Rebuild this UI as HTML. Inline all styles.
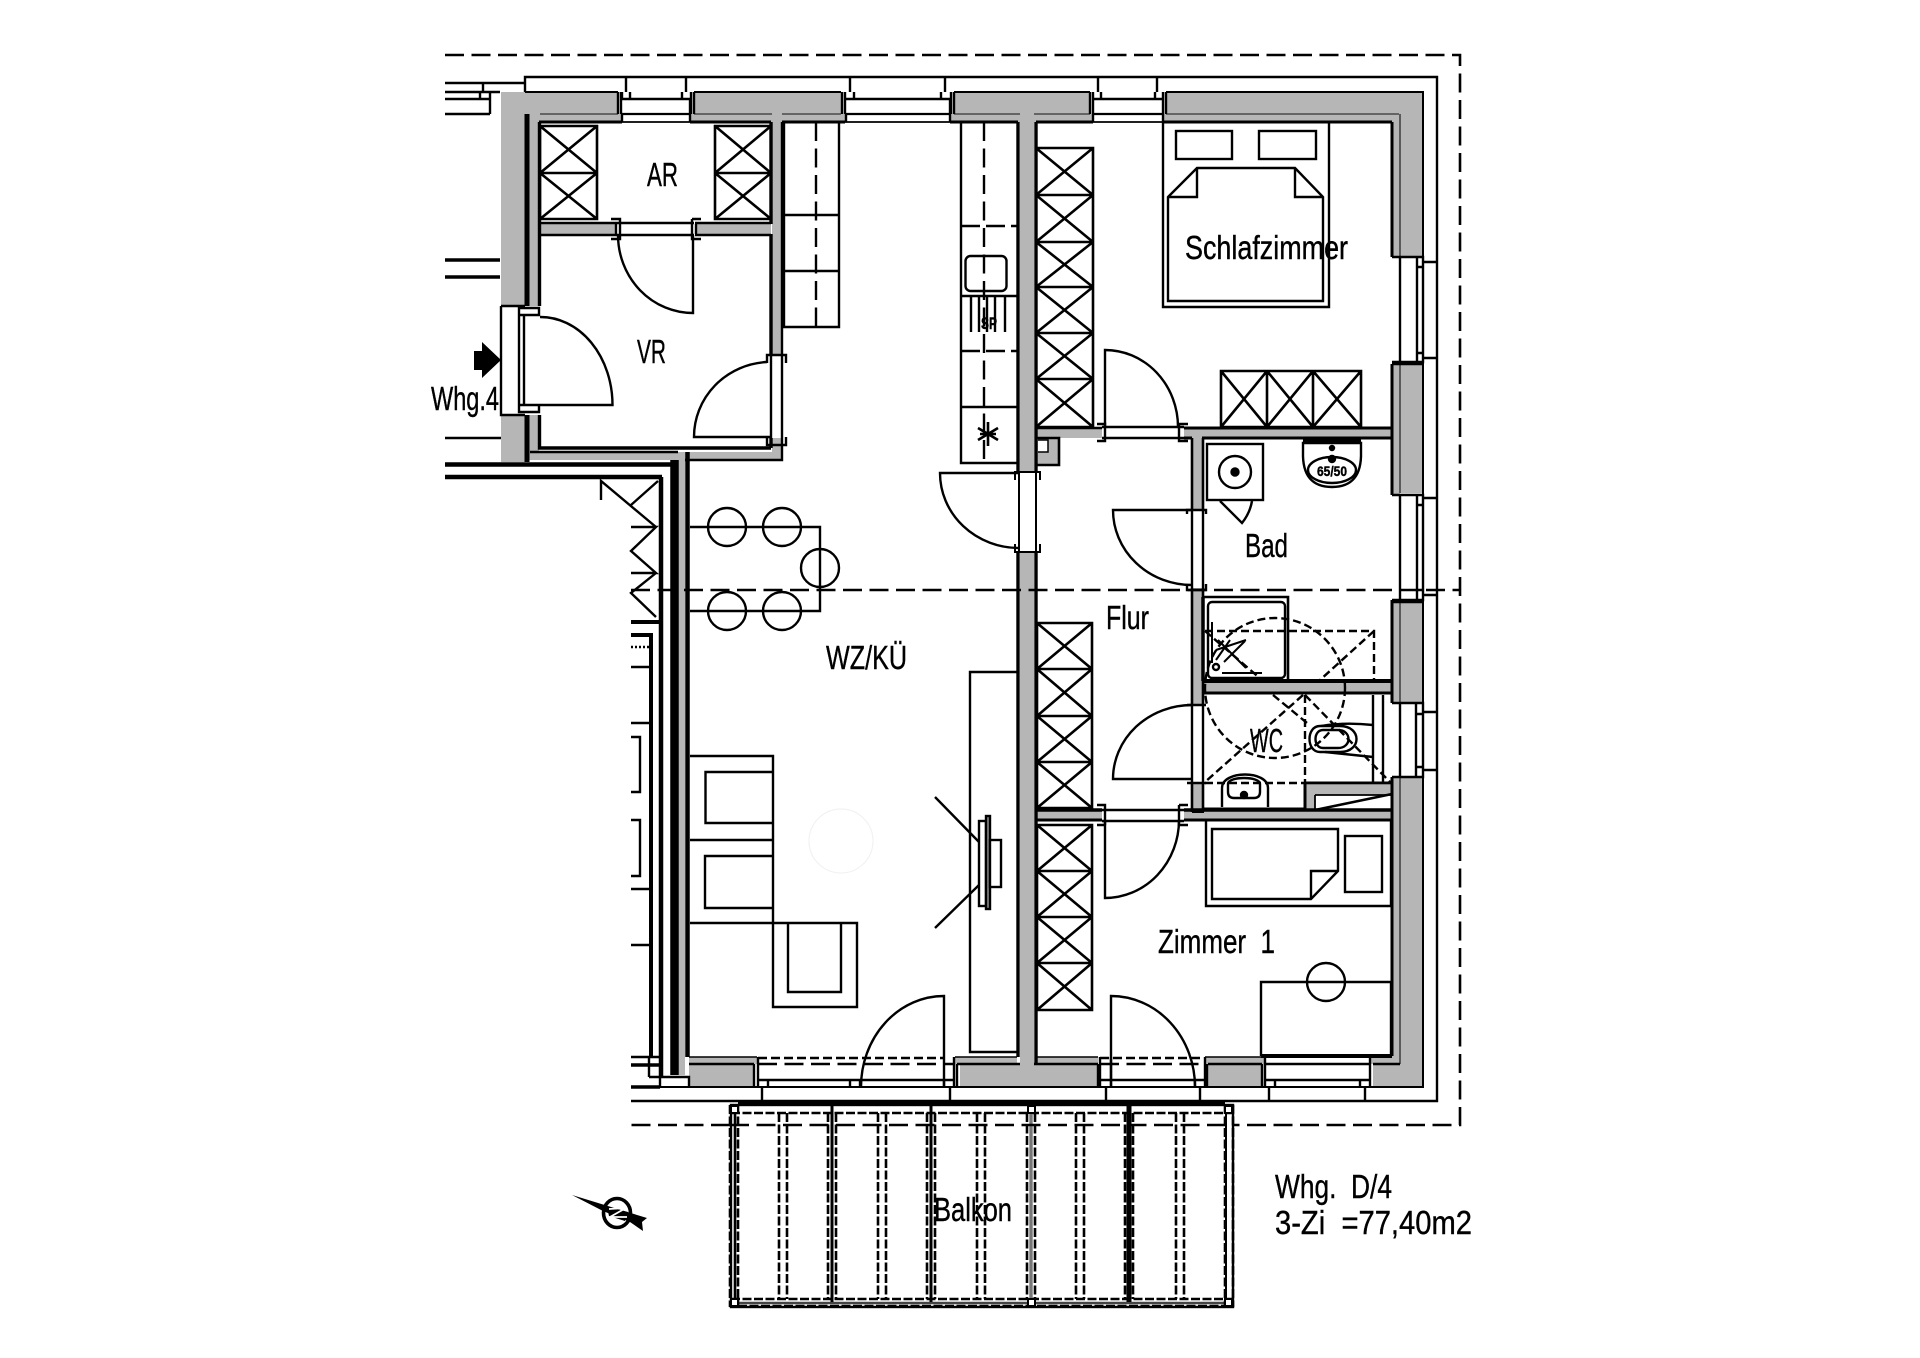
<!DOCTYPE html>
<html><head><meta charset="utf-8"><title>Whg. D/4</title>
<style>
html,body{margin:0;padding:0;background:#fff}
svg{display:block}
text{font-family:"Liberation Sans",sans-serif;font-size:33px;fill:#000;stroke:#000;stroke-width:.4}
.g{fill:#b6b6b6;stroke:none}
.w{fill:#fff;stroke:none}
</style></head><body>
<svg width="1920" height="1358" viewBox="0 0 1920 1358" xmlns="http://www.w3.org/2000/svg" fill="none" stroke="#000" stroke-width="2.4">
<rect class="w" width="1920" height="1358"/>

<!-- gray walls -->
<g class="g">
<rect x="525" y="92" width="93" height="22"/><rect x="694" y="92" width="147" height="22"/><rect x="954" y="92" width="136" height="22"/><rect x="1166" y="92" width="257" height="22"/>
<rect x="539" y="114" width="83" height="8"/><rect x="690" y="114" width="155" height="8"/><rect x="950" y="114" width="143" height="8"/><rect x="1163" y="114" width="229" height="8"/>
<rect x="501" y="92" width="24" height="214"/><rect x="501" y="415" width="24" height="47"/>
<rect x="529" y="114" width="10" height="192"/><rect x="529" y="415" width="10" height="45"/><rect x="529" y="452" width="253" height="8"/>
<rect x="540" y="224" width="76" height="10"/><rect x="695" y="224" width="76" height="10"/>
<rect x="772" y="114" width="10" height="241"/><rect x="772" y="438" width="10" height="22"/>
<rect x="678" y="452" width="7" height="623"/>
<rect x="1020" y="114" width="14" height="358"/><rect x="1020" y="552" width="14" height="535"/>
<rect x="1400" y="92" width="23" height="165"/><rect x="1400" y="364" width="23" height="129"/><rect x="1400" y="602" width="23" height="100"/><rect x="1400" y="777" width="23" height="310"/>
<rect x="1392" y="114" width="8" height="143"/><rect x="1392" y="364" width="8" height="131"/><rect x="1392" y="600" width="8" height="103"/><rect x="1392" y="777" width="8" height="287"/>
<rect x="689" y="1064" width="64" height="23"/><rect x="689" y="1057" width="68" height="7"/>
<rect x="960" y="1064" width="138" height="23"/><rect x="955" y="1057" width="62" height="7"/><rect x="1037" y="1057" width="61" height="7"/>
<rect x="1208" y="1064" width="54" height="23"/><rect x="1205" y="1057" width="59" height="7"/>
<rect x="1373" y="1064" width="50" height="23"/><rect x="1370" y="1057" width="30" height="7"/>
<rect x="1036" y="428" width="66" height="10"/><rect x="1184" y="428" width="208" height="10"/>
<rect x="1036" y="438" width="23" height="27"/>
<rect x="1192" y="438" width="10" height="72"/><rect x="1192" y="588" width="10" height="117"/><rect x="1192" y="783" width="10" height="32"/>
<rect x="1202" y="683" width="190" height="10"/>
<rect x="1305" y="785" width="87" height="25"/>
<rect x="1036" y="810" width="66" height="10"/><rect x="1184" y="810" width="208" height="10"/>
</g>
<rect class="w" x="1038" y="440" width="10" height="12"/>
<polygon class="w" points="1315,795 1392,795 1392,810 1315,810"/>

<!-- building outline -->
<path d="M525 92V77H1437V1101H631"/>
<path d="M626 77V92M686 77V92M850 77V92M945 77V92M1098 77V92M1157 77V92"/>
<path d="M1423 262H1437M1423 358H1437M1423 498H1437M1423 595H1437M1423 712H1437M1423 770H1437"/>
<path d="M762 1088V1101M950 1088V1101M1106 1088V1101M1200 1088V1101M1269 1088V1101M1365 1088V1101"/>
<path d="M631 1087H1423V92H1166M1090 92H954M841 92H694M618 92H525" stroke-width="2"/>
<path d="M1392 122H1163M1093 122H1036M1018 122H950M845 122H782M771 122H690M622 122H539" stroke-width="3"/>
<path d="M1163 122H1093M950 122H845M690 122H622" stroke-width="1.800"/>
<path d="M1399 114H1166M1090 114H1034M1020 114H954M841 114H782M772 114H694M618 114H540" stroke-width="1.300" stroke="#333"/>
<path d="M1163 114H1093M950 114H846M690 114H622" stroke-width="2.200"/>
<path d="M1392 122V257M1392 364V495M1392 600V703M1392 777V1056" stroke-width="3"/>
<path d="M1400 114V257M1400 364V493M1400 602V702M1400 777V1064" stroke-width="1.400" stroke="#333"/>

<!-- top windows -->
<path d="M618 92V114M621 92V114M691 92V114M694 92V114M622 99H690M622 114V122M690 99V122M630 92V99M682 92V99M622 99V92"/>
<path d="M842 92V114M845 92V114M951 92V114M954 92V114M846 99H950M846 114V122M950 99V122M854 92V99M941 92V99"/>
<path d="M1090 92V114M1093 92V122M1163 92V122M1166 92V114M1093 99H1163M1101 92V99M1155 92V99"/>

<!-- right windows -->
<path d="M1392 257H1423V362H1392M1392 364H1423M1400 257V362M1417 257V362M1417 267H1423M1417 353H1423"/>
<path d="M1392 495H1423V600H1392M1392 602H1423M1400 495V600M1417 495V600M1417 505H1423M1417 590H1423"/>
<path d="M1392 703H1423V777H1392M1400 703V777M1416 703V777M1416 714H1423M1416 767H1423"/>

<!-- bottom windows -->
<path d="M1265 1057V1088M1370 1057V1088M1262 1064V1087M1265 1064H1370M1265 1080H1370M1275 1080V1088M1360 1080V1088"/>
<path d="M1100 1057V1088M1098 1064V1087M1205 1057V1088M1207 1064V1087M1100 1080H1205M1111 1057V1088M1195 1080V1088"/>
<path d="M758 1057V1088M754 1064V1087M954 1057V1088M957 1064V1087M758 1080H954M768 1080V1088M850 1080V1088M860 1080V1088M944 1080V1088"/>
<path d="M1100 1058H1200M758 1058H945" stroke-dasharray="9 4"/>
<path d="M1100 1064H1205M758 1064H954" stroke-dasharray="19 7.5"/>
<path d="M689 1057H757M955 1057H1017M1037 1057H1098M1205 1057H1264M1370 1057H1392" stroke-width="1.6"/>
<path d="M689 1064H754M957 1064H1020M1034 1064H1098M1208 1064H1262M1373 1064H1400" stroke-width="2.400"/>

<!-- left exterior stubs -->
<path d="M445 83H525M445 92H500M445 99H490M445 114H490M490 92V114M483 83V92M480 92V99"/>
<path d="M445 260H500M445 277H500" stroke-width="3.6"/>
<path d="M445 438H501"/>
<path d="M501 306H525M501 306V415H525"/>
<polygon points="474,351 482,351 482,342 501,360 482,378 482,370 474,370" fill="#000" stroke="none"/>
<path d="M445 464.5H676M445 477H662M661 477V1077" stroke-width="4.5"/>
<path d="M674.5 460V1075" stroke-width="8.5"/>
<path d="M687.5 452V1057" stroke-width="4.5"/>
<path d="M527 114V306M527 415V462" stroke-width="5"/>
<path d="M539.5 122V306M539.5 415V448H771M771 122V224M771 234V355M771 438V448" stroke-width="3.4"/>
<path d="M530 452H678M685 460H782V438M782 122V355" stroke-width="2.4"/>
<path d="M649 1077H689V1087M660 1077V1087"/>
<path d="M649 1077V1057"/>
<path d="M648 1057H660M631 1057H654"/>
<path d="M631 1065H660" stroke-width="3.4"/>
<path d="M631 1087H660" stroke-width="3.4"/>
<path d="M631 622H660M631 635H651V1057" stroke-width="4"/>
<path d="M631 647H655" stroke-dasharray="2 2"/>
<path d="M631 667H650M631 723H650M631 889H650M631 945H650"/>
<path d="M631 737H640V792H631M631 820H640V876H631"/>
<path d="M601 500V481L656 527M658 481L631 505M631 527H656L631 551L656 573H631M656 573L631 593L656 617"/>

<!-- AR / VR -->
<path d="M540 126H597V219H540ZM540 173H597M540 126L597 173M597 126L540 173M540 173L597 219M597 173L540 219" stroke-width="2.6"/>
<path d="M715 126H771V219H715ZM715 173H771M715 126L771 173M771 126L715 173M715 173L771 219M771 173L715 219" stroke-width="2.6"/>
<path d="M540 223H616M540 235H616M695 223H771M695 235H771M616 223H694M616 235H694" />
<path d="M611 219H620V239H611M616 224V234M692 219H701M701 239H692V219M696 224V234"/>
<path d="M693 235V313A75 78 0 0 1 618 235"/>
<path d="M519 308H539V315H519ZM519 405H539V412H519ZM519 308V412M524 315V405"/>
<path d="M540 405H612.500A72 88 0 0 0 540 317"/>
<path d="M771 355V438M782 355V438M767 363V355H786V363M767 437V445H786V437"/>
<path d="M771 437H694A77 75 0 0 1 767 362"/>

<!-- left wardrobe top kitchen -->
<path d="M784 122V327H839V122M784 215H839M784 271H839"/>
<path d="M816 122V327" stroke-dasharray="19 7.500"/>

<!-- right kitchen -->
<path d="M961 122V463H1017M961 296H1017M961 407H1017"/>
<path d="M961 226H1017M961 351H1017" stroke-dasharray="19 6"/>
<path d="M984 122V463" stroke-dasharray="19 7.500"/>
<rect x="965.500" y="256" width="41" height="35" rx="5"/>
<path d="M971 296V332M979 296V332M987 296V332M995 296V332M1005 296V332"/>
<text x="981" y="329" style="font-size:17px;font-weight:bold" textLength="16" lengthAdjust="spacingAndGlyphs">SP</text>
<path d="M988 422V446M978 428L998 440M998 428L978 440M980 434H996" stroke-width="2.600"/>

<!-- center wall lines -->
<path d="M1018 122V472M1018 552V1057M1036 122V472M1036 552V1064" stroke-width="3.400"/>
<path d="M1019 472V552M1036 472V552M1015 480V472H1040V480M1015 544V552H1040V544" stroke-width="2"/>
<path d="M1019 473H940A79 75 0 0 0 1019 548"/>

<!-- Schlafzimmer closets -->
<path d="M1036 148H1093V427H1036ZM1036 195H1093M1036 242H1093M1036 287H1093M1036 333H1093M1036 379H1093M1036 148L1093 195M1093 148L1036 195M1036 195L1093 242M1093 195L1036 242M1036 242L1093 287M1093 242L1036 287M1036 287L1093 333M1093 287L1036 333M1036 333L1093 379M1093 333L1036 379M1036 379L1093 427M1093 379L1036 427" stroke-width="2.600"/>
<path d="M1036 428H1102M1036 438H1059V465H1036" stroke-width="2.600"/>
<path d="M1038 440H1048V452H1038" stroke-width="1.500"/>
<path d="M1184 428H1392M1184 438H1192M1202 438H1392" stroke-width="3"/>
<path d="M1102 427H1184M1102 438H1184M1097 424H1105V441H1097M1179 424V441H1188M1179 424H1188"/>
<path d="M1105 427V350A73 77 0 0 1 1178 427"/>

<!-- bed -->
<path d="M1163 122V307H1329V122"/>
<rect x="1176" y="131" width="56" height="28"/><rect x="1259" y="131" width="57" height="28"/>
<path d="M1168 197L1197 168H1295L1323 197V301H1168ZM1197 168V197H1168M1295 168V197H1323"/>
<path d="M1221 371H1361V427H1221ZM1267 371V427M1313 371V427M1221 371L1267 427M1267 371L1221 427M1267 371L1313 427M1313 371L1267 427M1313 371L1361 427M1361 371L1313 427" stroke-width="2.600"/>

<!-- Bad -->
<path d="M1192 438V510M1192 588V705M1192 783V812M1203 438V510M1203 588V705M1203 783V812" stroke-width="2.600"/>
<path d="M1192 510V588M1203 510V588M1187 514V510H1206V514M1187 584V590H1206V584M1192 705V783M1203 705V783M1187 705H1206M1187 783H1206"/>
<path d="M1192 510H1113A79 75 0 0 0 1192 585"/>
<path d="M1192 779H1113A79 74 0 0 1 1192 705"/>
<rect x="1207" y="444" width="56" height="56"/>
<circle cx="1235" cy="472" r="16"/><circle cx="1235" cy="472" r="3.500" fill="#000"/>
<path d="M1220 501L1242 523Q1250 513 1252 501"/>
<path d="M1303 443H1361V452Q1362 487 1332 487Q1302 487 1303 452Z" fill="#fff" stroke-width="2.400"/>
<path d="M1303 441H1361" stroke-width="5"/>
<ellipse cx="1332" cy="470" rx="24" ry="13" stroke-width="2.400"/>
<circle cx="1332" cy="448" r="2" fill="#000"/><circle cx="1332" cy="459" r="3" fill="#000"/>
<text x="1317" y="476" style="font-size:14px;font-weight:bold" textLength="30" lengthAdjust="spacingAndGlyphs">65/50</text>

<!-- shower -->
<path d="M1203 597H1288V682" stroke-width="2.600"/>
<rect x="1208" y="602" width="77" height="76" rx="4"/>
<path d="M1203 681H1392" stroke-width="4"/>
<path d="M1202 693H1392" stroke-width="3"/>
<path d="M1203 597V681" stroke-width="3.500"/>
<path d="M1212 622V663M1222 673H1262M1216 650L1246 640M1218 640L1246 668" stroke-width="2"/>
<circle cx="1216" cy="667" r="3"/>
<path d="M1230 640L1216 660M1245 641L1224 662" stroke-width="2"/>
<!-- dashed shower / WC swings -->
<g stroke-dasharray="8 4">
<path d="M1205 631H1374V680"/>
<path d="M1205 631L1262 680M1374 631L1320 680"/>
<circle cx="1275" cy="688" r="70"/>
<path d="M1305 695V783H1205"/>
<path d="M1303 695L1205 782M1273 695L1307 723M1305 695L1390 782"/>
</g>

<!-- WC -->
<path d="M1373 695V783M1383 695V783" stroke-width="2.400"/>
<path d="M1305 783H1392M1203 809H1305V783" stroke-width="3"/>
<path d="M1315 795H1392M1315 795V810L1392 794" stroke-width="1.800"/>
<path d="M1315 810L1392 794" stroke-width="2.600"/>
<path d="M1192 812H1204M1305 810H1392" stroke-width="2"/>
<path d="M1321 726Q1345 722 1373 725M1325 752L1373 757"/>
<path d="M1320 726C1306 726 1306 752 1320 752H1340C1362 752 1362 726 1340 726Z"/>
<path d="M1323 730C1313 730 1313 748 1323 748H1338C1352 748 1352 730 1338 730Z"/>
<path d="M1222 807V788C1222 770 1268 770 1268 788V807"/>
<path d="M1228 784C1228 776 1260 776 1260 784V792Q1260 798 1254 798H1234Q1228 798 1228 792Z"/>
<circle cx="1244" cy="795" r="3" fill="#000"/>

<!-- Flur closet -->
<path d="M1037 623H1092V808H1037ZM1037 669H1092M1037 716H1092M1037 762H1092M1037 623L1092 669M1092 623L1037 669M1037 669L1092 716M1092 669L1037 716M1037 716L1092 762M1092 716L1037 762M1037 762L1092 808M1092 762L1037 808" stroke-width="2.600"/>
<path d="M1036 810H1102M1184 810H1392" stroke-width="3.400"/>
<path d="M1036 820H1102M1184 820H1392" stroke-width="3"/>
<path d="M1102 810H1184M1102 821H1184M1097 805H1105V825M1179 805H1188M1179 805V825H1188M1097 825H1105"/>

<!-- Zimmer 1 -->
<path d="M1037 825H1092V1010H1037ZM1037 871H1092M1037 917H1092M1037 963H1092M1037 825L1092 871M1092 825L1037 871M1037 871L1092 917M1092 871L1037 917M1037 917L1092 963M1092 917L1037 963M1037 963L1092 1010M1092 963L1037 1010" stroke-width="2.600"/>
<path d="M1105 820V898A74 78 0 0 0 1179 820"/>
<path d="M1206 821V906H1391V821"/>
<path d="M1212 829H1338V871L1311 899H1212ZM1311 899V871H1338"/>
<rect x="1345" y="836" width="37" height="56"/>
<path d="M1261 1056V982H1391V1056"/>
<path d="M1261 1056H1392" stroke-width="4"/>
<circle cx="1326" cy="982" r="19"/>
<path d="M1111 1087V996A84 91 0 0 1 1195 1087"/>

<!-- WZ furniture -->
<path d="M690 527H820V611H690"/>
<circle cx="727" cy="527" r="19"/><circle cx="782" cy="527" r="19"/>
<circle cx="727" cy="611" r="19"/><circle cx="782" cy="611" r="19"/>
<circle cx="820" cy="568" r="19"/>
<path d="M690 756H773V923H690M690 840H773"/>
<path d="M773 772H705.500V823H773M773 856H705V908H773"/>
<path d="M773 923H857V1007H773ZM788 923V992H841V923"/>
<circle cx="841" cy="841" r="32" stroke="#f2f2f2" stroke-width="1.200"/>
<path d="M1017 672H970V1052H1017"/>
<rect x="979" y="821" width="7" height="85" fill="#fff"/>
<rect x="986" y="816" width="4" height="93" fill="#888"/>
<rect x="990" y="840" width="11" height="47" fill="#fff"/>
<path d="M935 797L979 842M979 885L935 928"/>
<path d="M944 1087V996A83 91 0 0 0 861 1087"/>

<!-- balcony -->
<rect x="731" y="1105" width="502" height="202" stroke-width="2.400"/>
<path d="M738 1103H1225" stroke-width="3.500"/>
<path d="M736 1303H1228" stroke-width="2.600" stroke="#444"/>
<g stroke-dasharray="9 2.500" stroke-width="2.600">
<path d="M731 1113H1233M731 1299H1233M738 1306H1225"/>
<path d="M730 1105V1307M738 1105V1307M828 1113V1299M836 1113V1299M927 1113V1299M935 1113V1299M1027 1113V1299M1035 1113V1299M1125 1113V1299M1133 1113V1299M1225 1105V1307M1233 1105V1307"/>
<path d="M779 1113V1299M787 1113V1299M878 1113V1299M886 1113V1299M977 1113V1299M985 1113V1299M1076 1113V1299M1084 1113V1299M1176 1113V1299M1184 1113V1299"/>
</g>
<path d="M832 1105V1302M931 1105V1302" stroke-width="3"/>
<path d="M1031 1105V1302" stroke-width="3.400" stroke="#777"/>
<path d="M1129 1105V1302" stroke-width="5"/>
<path d="M735 1105V1302" stroke-width="2.600"/>
<path d="M1226 1105V1302" stroke-width="2"/>
<g fill="#fff" stroke-width="2">
<rect x="731" y="1299" width="7" height="7"/><rect x="1028" y="1299" width="7" height="7"/><rect x="1225" y="1299" width="7" height="7"/>
<rect x="731" y="1106" width="7" height="7"/><rect x="1028" y="1106" width="7" height="7"/><rect x="1225" y="1106" width="7" height="7"/>
</g>

<!-- dashed building lines -->
<path d="M445 55H1460V1125H1233M730 1125H631" stroke-dasharray="19 7.500" stroke-width="2.600"/>
<path d="M631 590H1460" stroke-dasharray="19 7.500" stroke-width="2.600"/>
<path d="M730 1125H1233" stroke-dasharray="19 7.500" stroke-width="2.600"/>

<!-- compass -->
<polygon points="572,1195 647,1218 642,1222 643,1231 630,1222 603,1211" fill="#000" stroke="none"/>
<ellipse cx="617" cy="1213" rx="13.500" ry="14.500" stroke-width="3.600" fill="none"/>
<polygon points="607,1207 628,1212 625,1221 609,1216" fill="#000" stroke="none"/>
<path d="M609 1209L626 1208L610 1217L627 1217" stroke="#fff" stroke-width="1.800"/>

<!-- labels -->
<text x="647" y="186" textLength="31" lengthAdjust="spacingAndGlyphs">AR</text>
<text x="637" y="363" textLength="29" lengthAdjust="spacingAndGlyphs">VR</text>
<text x="431" y="410" textLength="68" lengthAdjust="spacingAndGlyphs">Whg.4</text>
<text x="1185" y="259" textLength="163" lengthAdjust="spacingAndGlyphs">Schlafzimmer</text>
<text x="826" y="669" textLength="81" lengthAdjust="spacingAndGlyphs">WZ/KÜ</text>
<text x="1106" y="629" textLength="43" lengthAdjust="spacingAndGlyphs">Flur</text>
<text x="1245" y="557" textLength="43" lengthAdjust="spacingAndGlyphs">Bad</text>
<text x="1250" y="752" textLength="33" lengthAdjust="spacingAndGlyphs">WC</text>
<text x="1158" y="953" textLength="117" lengthAdjust="spacingAndGlyphs" xml:space="preserve">Zimmer  1</text>
<text x="934" y="1221" textLength="78" lengthAdjust="spacingAndGlyphs">Balkon</text>
<text x="1275" y="1198" textLength="117" lengthAdjust="spacingAndGlyphs" xml:space="preserve">Whg.  D/4</text>
<text x="1275" y="1234" textLength="197" lengthAdjust="spacingAndGlyphs" xml:space="preserve">3-Zi  =77,40m2</text>
</svg>
</body></html>
